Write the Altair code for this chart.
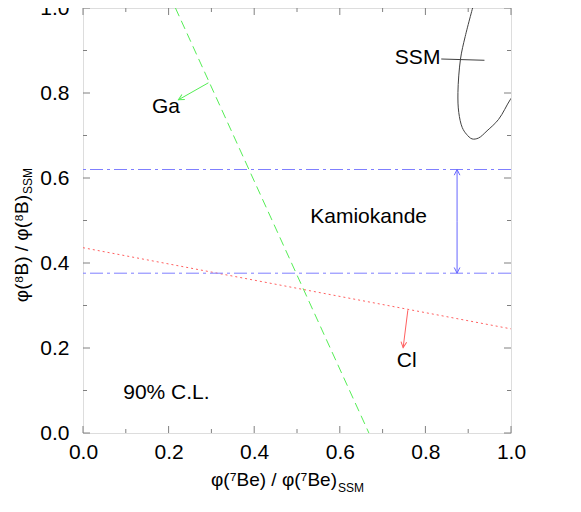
import altair as alt
import pandas as pd

# ---- data ----
major_ticks = [0.0, 0.2, 0.4, 0.6, 0.8, 1.0]
minor_ticks = [0.1, 0.3, 0.5, 0.7, 0.9]

ga_x = [0.216, 0.668]
ga_y = [1.0, 0.0]

cl_x = [0.0, 1.0]
cl_y = [0.436, 0.245]

kam_y = [0.620, 0.376]

ssm_x = [0.913, 0.893, 0.882, 0.876, 0.878, 0.886, 0.896, 0.909, 0.924, 0.944, 0.971, 0.998, 1.01]
ssm_y = [1.01, 0.933, 0.880, 0.801, 0.754, 0.719, 0.703, 0.692, 0.694, 0.711, 0.738, 0.784, 0.80]

# arrows: start x, start y, end x, end y, colour
arrow_x1 = [0.293, 0.759, 0.874, 0.874]
arrow_y1 = [0.824, 0.289, 0.498, 0.498]
arrow_x2 = [0.223, 0.748, 0.874, 0.874]
arrow_y2 = [0.784, 0.201, 0.620, 0.376]
arrow_angle = [240, 187, 0, 180]
arrow_color = ["#55ee55", "#ff6060", "#6666ff", "#6666ff"]

ssm_ptr_x = [0.837, 0.938]
ssm_ptr_y = [0.880, 0.877]

label_text = ["Ga", "Cl", "Kamiokande", "90% C.L."]
label_x = [0.161, 0.733, 0.531, 0.094]
label_y = [0.766, 0.170, 0.509, 0.093]

ssm_label_x = [0.835]
ssm_label_y = [0.882]

W, H = 428, 425
FONT = "Liberation Sans"
AXC = "#808080"

xs = alt.Scale(domain=[0, 1], nice=False, zero=False)
ys = alt.Scale(domain=[0, 1], nice=False, zero=False)

x_axis = alt.Axis(values=major_ticks, format=".1f", labelFontSize=21, labelFont=FONT,
                  labelColor="black", ticks=False, tickSize=0, grid=False, domain=False,
                  labelPadding=8, title=None, labelFlush=False)
y_axis = alt.Axis(values=major_ticks, format=".1f", labelFontSize=21, labelFont=FONT,
                  labelColor="black", ticks=False, tickSize=0, grid=False, domain=False,
                  labelPadding=14, title=None, labelFlush=False)


def X(f):
    return alt.X(f, type="quantitative", scale=xs, axis=x_axis)


def Y(f):
    return alt.Y(f, type="quantitative", scale=ys, axis=y_axis)


ga_df = pd.DataFrame({"x": ga_x, "y": ga_y})
ga = alt.Chart(ga_df).mark_line(color="#55ee55", strokeDash=[9, 5], strokeWidth=1).encode(
    x=X("x"), y=Y("y"))

cl_df = pd.DataFrame({"x": cl_x, "y": cl_y})
cl = alt.Chart(cl_df).mark_line(color="#ff6060", strokeDash=[2, 3], strokeWidth=1).encode(
    x=X("x"), y=Y("y"))

kam_df = pd.DataFrame({"y": kam_y})
kam = alt.Chart(kam_df).mark_rule(color="#7f7fff", strokeDash=[13, 4, 3, 4], strokeWidth=1).encode(
    y=Y("y"))

ssm_df = pd.DataFrame({"x": ssm_x, "y": ssm_y, "o": list(range(len(ssm_x)))})
ssm = alt.Chart(ssm_df).mark_line(color="#404040", strokeWidth=1, interpolate="catmull-rom",
                                  clip=True).encode(
    x=X("x"), y=Y("y"), order="o:Q")

ptr_df = pd.DataFrame({"x": ssm_ptr_x, "y": ssm_ptr_y})
ptr = alt.Chart(ptr_df).mark_line(color="#404040", strokeWidth=1).encode(x=X("x"), y=Y("y"))

arr_df = pd.DataFrame({"x1": arrow_x1, "y1": arrow_y1, "x2": arrow_x2, "y2": arrow_y2,
                       "a": arrow_angle, "c": arrow_color})
arr_lines = alt.Chart(arr_df).mark_rule(strokeWidth=1).encode(
    x=X("x1"), y=Y("y1"), x2="x2", y2="y2", color=alt.Color("c:N", scale=None))
arr_heads = alt.Chart(arr_df).mark_point(
    shape="M -0.5 1 L 0 0 L 0.5 1", filled=False, strokeWidth=1, opacity=1, size=130).encode(
    x=X("x2"), y=Y("y2"), angle=alt.Angle("a:Q", scale=None), color=alt.Color("c:N", scale=None))

lab_df = pd.DataFrame({"t": label_text, "x": label_x, "y": label_y})
labels = alt.Chart(lab_df).mark_text(align="left", baseline="middle", font=FONT, fontSize=21,
                                     color="black").encode(x=X("x"), y=Y("y"), text="t:N")

ssm_lab_df = pd.DataFrame({"t": ["SSM"], "x": ssm_label_x, "y": ssm_label_y})
ssm_lab = alt.Chart(ssm_lab_df).mark_text(align="right", baseline="middle", font=FONT,
                                          fontSize=21, color="black").encode(
    x=X("x"), y=Y("y"), text="t:N")

# ---- inward tick marks on all four sides ----
maj_df = pd.DataFrame({"v": major_ticks})
min_df = pd.DataFrame({"v": minor_ticks})
MAJ, MIN = 7, 4


def tick_layers(df, L):
    return [
        alt.Chart(df).mark_rule(color=AXC, strokeWidth=1).encode(
            x=X("v"), y=alt.value(H - L), y2=alt.value(H)),
        alt.Chart(df).mark_rule(color=AXC, strokeWidth=1).encode(
            x=X("v"), y=alt.value(0), y2=alt.value(L)),
        alt.Chart(df).mark_rule(color=AXC, strokeWidth=1).encode(
            y=Y("v"), x=alt.value(0), x2=alt.value(L)),
        alt.Chart(df).mark_rule(color=AXC, strokeWidth=1).encode(
            y=Y("v"), x=alt.value(W - L), x2=alt.value(W)),
    ]


ticks = tick_layers(maj_df, MAJ) + tick_layers(min_df, MIN)

# ---- axis titles (with super/subscripts) ----
xt_main = alt.Chart(pd.DataFrame({"t": ["φ(⁷Be) / φ(⁷Be)"]})).mark_text(
    align="right", baseline="alphabetic", font=FONT, fontSize=19, color="black").encode(
    text="t:N", x=alt.value(254), y=alt.value(478))
xt_sub = alt.Chart(pd.DataFrame({"t": ["SSM"]})).mark_text(
    align="left", baseline="alphabetic", font=FONT, fontSize=12, color="black").encode(
    text="t:N", x=alt.value(255), y=alt.value(484))
yt_main = alt.Chart(pd.DataFrame({"t": ["φ(⁸B) / φ(⁸B)"]})).mark_text(
    align="right", baseline="alphabetic", font=FONT, fontSize=19, color="black", angle=270).encode(
    text="t:N", x=alt.value(-55), y=alt.value(187))
yt_sub = alt.Chart(pd.DataFrame({"t": ["SSM"]})).mark_text(
    align="left", baseline="alphabetic", font=FONT, fontSize=12, color="black", angle=270).encode(
    text="t:N", x=alt.value(-51), y=alt.value(186))

chart = alt.layer(
    ga, cl, kam, ssm, ptr, arr_lines, arr_heads, labels, ssm_lab, *ticks,
    xt_main, xt_sub, yt_main, yt_sub
).properties(
    width=W, height=H,
    autosize=alt.AutoSizeParams(type="none"),
    padding={"left": 75, "top": 0, "right": 40, "bottom": 75},
).configure_view(stroke=AXC, strokeWidth=1).configure(background="white")

chart.save("out.html", embed_options={"renderer": "svg", "actions": False})
